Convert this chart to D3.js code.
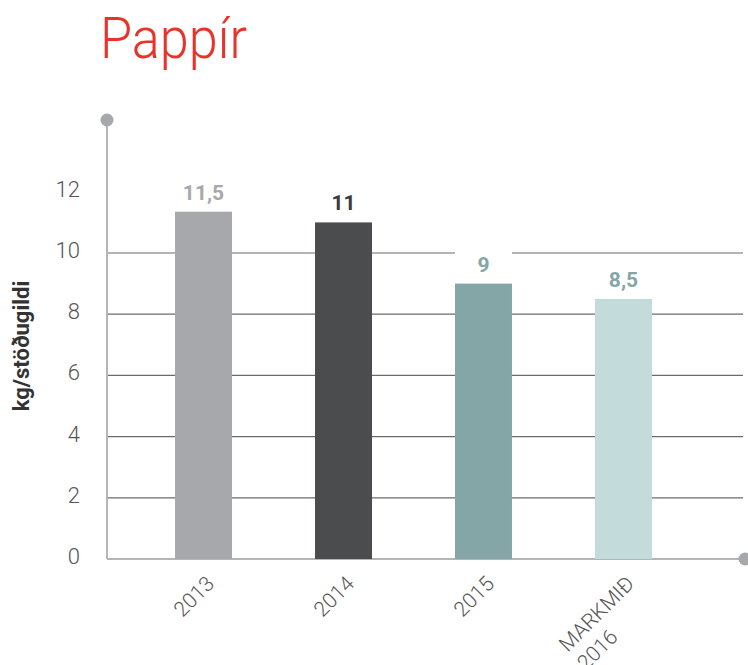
<!DOCTYPE html>
<html>
<head>
<meta charset="utf-8">
<script src="https://cdn.jsdelivr.net/npm/d3@7"></script>
<style>
  body { margin: 0; background: #fff; }
  svg { display: block; font-family: Roboto, "Open Sans", sans-serif; }
</style>
</head>
<body>
<svg width="748" height="665"></svg>
<script>
// data
var categories = ["2013", "2014", "2015", "MARKMIÐ 2016"];
var values = [11.35, 11, 9, 8.5];
var valueLabels = ["11,5", "11", "9", "8,5"];
var barColors = ["#a7a8ab", "#4b4c4e", "#84a6a6", "#c4dbdc"];
var labelColors = ["#a7a8ab", "#3a3b3d", "#84a6a6", "#84a6a6"];
var yTicks = [0, 2, 4, 6, 8, 10, 12];
var gridTicks = [2, 4, 6, 8, 10];

var svg = d3.select("svg");

var x = d3.scaleBand()
    .domain(categories)
    .range([107, 720])
    .paddingInner(0.593)
    .paddingOuter(0.486);

var y = d3.scaleLinear().domain([0, 12]).range([559, 191.8]);

// title
svg.append("text")
    .attr("x", 100)
    .attr("y", 58)
    .attr("fill", "#e8332a")
    .attr("font-size", 58)
    .attr("font-weight", 300)
    .attr("textLength", 147)
    .attr("lengthAdjust", "spacingAndGlyphs")
    .text("Pappír");

// gridlines
svg.append("g")
    .selectAll("line")
    .data(gridTicks)
    .enter().append("line")
    .attr("x1", 107)
    .attr("x2", 743)
    .attr("y1", function (d) { return y(d); })
    .attr("y2", function (d) { return y(d); })
    .attr("stroke", "#6b6b6b")
    .attr("stroke-width", 1.2);

// y tick labels
var yAxis = svg.append("g")
    .attr("transform", "translate(107,0)")
    .call(d3.axisLeft(y).tickValues(yTicks).tickSize(0).tickPadding(27));
yAxis.select(".domain").remove();
yAxis.selectAll("text")
    .attr("font-family", "Roboto, sans-serif")
    .attr("font-size", 22)
    .attr("font-weight", 300)
    .attr("fill", "#555")
    .attr("dy", "0.2em");

// axis lines + end dots
svg.append("line")
    .attr("x1", 107).attr("x2", 107)
    .attr("y1", 120).attr("y2", y(0))
    .attr("stroke", "#b5b5b7").attr("stroke-width", 2);
svg.append("line")
    .attr("x1", 107).attr("x2", 745)
    .attr("y1", y(0)).attr("y2", y(0))
    .attr("stroke", "#b5b5b7").attr("stroke-width", 2);
svg.append("circle").attr("cx", 107).attr("cy", 120).attr("r", 6.5).attr("fill", "#a7a8ab");
svg.append("circle").attr("cx", 745).attr("cy", y(0)).attr("r", 6.5).attr("fill", "#a7a8ab");

// white boxes behind value labels (cut the gridlines)
svg.append("g")
    .selectAll("rect")
    .data(values)
    .enter().append("rect")
    .attr("x", function (d, i) { return x(categories[i]); })
    .attr("width", x.bandwidth())
    .attr("y", function (d) { return y(d) - 36; })
    .attr("height", 36)
    .attr("fill", "#fff");

// bars
svg.append("g")
    .selectAll("rect")
    .data(values)
    .enter().append("rect")
    .attr("x", function (d, i) { return x(categories[i]); })
    .attr("width", x.bandwidth())
    .attr("y", function (d) { return y(d); })
    .attr("height", function (d) { return y(0) - y(d); })
    .attr("fill", function (d, i) { return barColors[i]; });

// value labels
svg.append("g")
    .selectAll("text")
    .data(values)
    .enter().append("text")
    .attr("x", function (d, i) { return x(categories[i]) + x.bandwidth() / 2; })
    .attr("y", function (d) { return y(d) - 12; })
    .attr("text-anchor", "middle")
    .attr("font-size", 21)
    .attr("font-weight", 700)
    .attr("fill", function (d, i) { return labelColors[i]; })
    .text(function (d, i) { return valueLabels[i]; });

// x labels, rotated
categories.forEach(function (c) {
    var lines = c.split(" ");
    var t = svg.append("text")
        .attr("transform", "translate(" + (x(c) + x.bandwidth() / 2 + 12) + "," + (y(0) + 26) + ") rotate(-45)")
        .attr("text-anchor", "end")
        .attr("font-size", 21)
        .attr("font-weight", 300)
        .attr("fill", "#555");
    var first = t.append("tspan").attr("x", 0).text(lines[0]);
    if (lines.length > 1) {
        var w = first.node().getComputedTextLength();
        t.append("tspan")
            .attr("x", -w)
            .attr("dy", 26)
            .attr("text-anchor", "start")
            .text(lines[1]);
    }
});

// y axis title
svg.append("text")
    .attr("transform", "translate(29,346) rotate(-90)")
    .attr("text-anchor", "middle")
    .attr("font-size", 22)
    .attr("font-weight", 700)
    .attr("fill", "#333")
    .text("kg/stöðugildi");
</script>
</body>
</html>
